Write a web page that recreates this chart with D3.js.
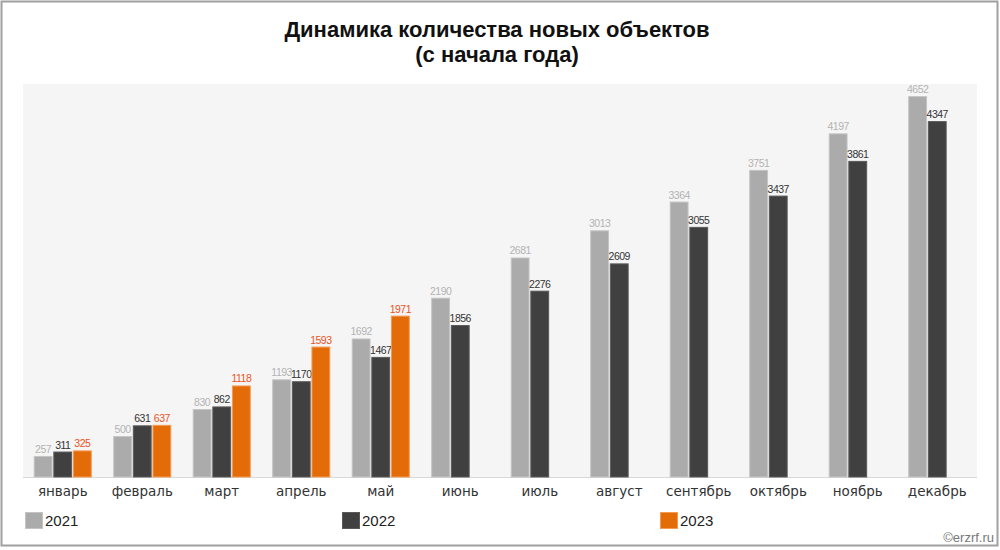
<!DOCTYPE html>
<html><head><meta charset="utf-8">
<script src="https://cdn.jsdelivr.net/npm/d3@7"></script>
<style>body{margin:0;background:#fff}svg{display:block}</style>
</head><body><svg id="c" width="1000" height="550"></svg>
<script>
const months = ["январь","февраль","март","апрель","май","июнь","июль","август","сентябрь","октябрь","ноябрь","декабрь"];
const seriesNames = ["2021","2022","2023"];
const v2021 = [257,500,830,1193,1692,2190,2681,3013,3364,3751,4197,4652];
const v2022 = [311,631,862,1170,1467,1856,2276,2609,3055,3437,3861,4347];
const v2023 = [325,637,1118,1593,1971];
const barColors = ["#ababab","#404040","#e36c09"];
const strokeColors = ["#c4c4c4","#5a5a5a","#f59a52"];
const labelColors = ["#b3b3b3","#333333","#e8541e"];
const allSeries = [v2021,v2022,v2023];

const svg = d3.select("#c");
svg.append("rect").attr("x",1.5).attr("y",1.5).attr("width",996).attr("height",544)
  .attr("fill","#fff").attr("stroke","#a0a0a0").attr("stroke-width",2);

const plot = {l:23, r:977, t:84, b:477};
svg.append("rect").attr("x",plot.l).attr("y",plot.t).attr("width",plot.r-plot.l).attr("height",plot.b-plot.t).attr("fill","#f5f5f5");

const x0 = d3.scaleBand().domain(months).range([plot.l,plot.r]).paddingInner(0.25).paddingOuter(0.125);
const x1 = d3.scaleBand().domain(seriesNames).range([0,x0.bandwidth()]).padding(0.04);
const y = d3.scaleLinear().domain([0,4800]).range([plot.b,plot.t]);

svg.append("line").attr("x1",plot.l).attr("x2",plot.r).attr("y1",plot.b+0.5).attr("y2",plot.b+0.5).attr("stroke","#d9d9d9");

seriesNames.forEach((s,i)=>{
  const data = allSeries[i].map((v,j)=>({m:months[j],v}));
  const g = svg.append("g");
  g.selectAll("rect").data(data).join("rect")
    .attr("x",d=>x0(d.m)+x1(s)+0.5).attr("y",d=>y(d.v)+0.5)
    .attr("width",x1.bandwidth()-1).attr("height",d=>plot.b-y(d.v)-0.5)
    .attr("fill",barColors[i]).attr("stroke",strokeColors[i]).attr("stroke-width",1);
  g.selectAll("text").data(data).join("text")
    .attr("x",d=>x0(d.m)+x1(s)+x1.bandwidth()/2).attr("y",d=>y(d.v)-3)
    .attr("text-anchor","middle").attr("font-family","Liberation Sans, Arial, sans-serif")
    .attr("font-size",10.5).attr("letter-spacing",-0.5).attr("fill",labelColors[i]).text(d=>d.v);
});

const xAxis = svg.append("g").attr("transform",`translate(0,${plot.b})`)
  .call(d3.axisBottom(x0).tickSize(0).tickPadding(9));
xAxis.select(".domain").remove();
xAxis.selectAll("text").attr("font-family","DejaVu Sans, Verdana, sans-serif").attr("font-size",13.5).attr("fill","#333");

const tf = "'Liberation Sans', Arial, sans-serif";
svg.append("text").attr("x",497).attr("y",37).attr("text-anchor","middle").attr("font-family",tf)
  .attr("font-weight","bold").attr("font-size",22).attr("fill","#111").text("Динамика количества новых объектов");
svg.append("text").attr("x",497).attr("y",62).attr("text-anchor","middle").attr("font-family",tf)
  .attr("font-weight","bold").attr("font-size",22).attr("fill","#111").text("(с начала года)");

const legX = [25,342,660];
seriesNames.forEach((s,i)=>{
  svg.append("rect").attr("x",legX[i]+0.5).attr("y",512.5).attr("width",17).attr("height",16)
    .attr("fill",barColors[i]).attr("stroke",strokeColors[i]);
  svg.append("text").attr("x",legX[i]+20).attr("y",526).attr("font-family",tf)
    .attr("font-size",15).attr("fill","#222").text(s);
});
svg.append("text").attr("x",994).attr("y",542).attr("text-anchor","end").attr("font-family",tf)
  .attr("font-size",13).attr("fill","#777").text("©erzrf.ru");
</script></body></html>
